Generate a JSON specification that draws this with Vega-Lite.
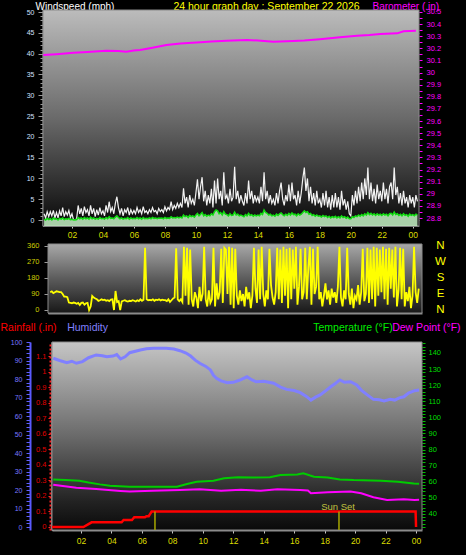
{
"$schema": "https://vega.github.io/schema/vega-lite/v6.json",
"width": 466, "height": 555,
"autosize": {"type": "none"},
"padding": 0,
"background": "#000000",
"config": {
 "view": {"stroke": null},
 "axis": {"labelFont": "Liberation Sans", "titleFont": "Liberation Sans", "titleFontWeight": "normal", "labelOverlap": false, "labelFlush": false, "labelBound": false, "grid": false, "zindex": 1, "gridDash": [1, 2], "gridColor": "#e6e6e6", "gridOpacity": 0.45, "domain": false, "ticks": false, "labels": false}
},
"data": {"values": [{"k": 1}]},
"datasets": {
 "wind": [
{"t":0.2,"g":1.5,"a":0.2},{"t":0.3,"g":0.5,"a":0},{"t":0.4,"g":2,"a":0.4},{"t":0.5,"g":0.8,"a":0.1},{"t":0.6,"g":2,"a":0.3,"d":100},{"t":0.7,"g":1,"a":0,"d":105},{"t":0.8,"g":2.3,"a":0.5,"d":95},{"t":0.9,"g":0.5,"a":0.2,"d":100},
{"t":1,"g":1.8,"a":0.3,"d":105},{"t":1.1,"g":0.5,"a":0,"d":103},{"t":1.2,"g":2.2,"a":0.4,"d":100},{"t":1.3,"g":1,"a":0.2,"d":100},{"t":1.4,"g":3,"a":0.5,"d":90},{"t":1.5,"g":0.8,"a":0.1,"d":75},{"t":1.6,"g":2,"a":0.3,"d":75},{"t":1.7,"g":1.2,"a":0.2,"d":72},{"t":1.8,"g":2.3,"a":0.4,"d":42},{"t":1.9,"g":0.6,"a":0.1,"d":40},
{"t":2,"g":1.5,"a":0.2,"d":38},{"t":2.1,"g":0,"a":0,"d":42},{"t":2.2,"g":0,"a":0,"d":40},{"t":2.3,"g":0.3,"a":0.1,"d":35},{"t":2.4,"g":3.5,"a":0.6,"d":40},{"t":2.5,"g":1.5,"a":0.3,"d":28},{"t":2.6,"g":2.8,"a":0.5,"d":40},{"t":2.7,"g":1,"a":0.2,"d":42},{"t":2.8,"g":3.2,"a":0.6,"d":30},{"t":2.9,"g":1.8,"a":0.3,"d":38},
{"t":3,"g":2.5,"a":0.5,"d":40},{"t":3.1,"g":1,"a":0.2,"d":0},{"t":3.2,"g":3.5,"a":0.7,"d":20},{"t":3.3,"g":1.5,"a":0.3,"d":79},{"t":3.4,"g":2.8,"a":0.5,"d":70},{"t":3.5,"g":0.8,"a":0.2,"d":65},{"t":3.6,"g":2.5,"a":0.4,"d":60},{"t":3.7,"g":1.2,"a":0.2,"d":51},{"t":3.8,"g":3,"a":0.6,"d":55},{"t":3.9,"g":1.5,"a":0.3,"d":60},
{"t":4,"g":2.2,"a":0.4,"d":56},{"t":4.1,"g":1,"a":0.2,"d":58},{"t":4.2,"g":3.5,"a":0.6,"d":52},{"t":4.3,"g":1.8,"a":0.3,"d":55},{"t":4.4,"g":4.4,"a":0.8,"d":50},{"t":4.5,"g":2,"a":0.4,"d":58},{"t":4.6,"g":3,"a":0.5,"d":60},{"t":4.7,"g":1.5,"a":0.3,"d":0},{"t":4.8,"g":4,"a":0.7,"d":107},{"t":4.9,"g":5.6,"a":1,"d":45},
{"t":5,"g":3,"a":0.6,"d":50},{"t":5.1,"g":1.5,"a":0.3,"d":0},{"t":5.2,"g":2.8,"a":0.5,"d":48},{"t":5.3,"g":1,"a":0.2,"d":52},{"t":5.4,"g":2.5,"a":0.4,"d":55},{"t":5.5,"g":1.8,"a":0.3,"d":50},{"t":5.6,"g":3,"a":0.6,"d":48},{"t":5.7,"g":1.2,"a":0.2,"d":52},{"t":5.8,"g":2.5,"a":0.5,"d":50},{"t":5.9,"g":1.5,"a":0.3,"d":55},
{"t":6,"g":2.3,"a":0.4,"d":52},{"t":6.1,"g":1.5,"a":0.3,"d":48},{"t":6.2,"g":3,"a":0.6,"d":55},{"t":6.3,"g":1.8,"a":0.3,"d":50},{"t":6.4,"g":2.5,"a":0.5,"d":60},{"t":6.5,"g":1.5,"a":0.2,"d":52},{"t":6.6,"g":3.2,"a":0.6,"d":58},{"t":6.7,"g":1.8,"a":0.3,"d":350},{"t":6.8,"g":2.2,"a":0.4,"d":60},{"t":6.9,"g":1.5,"a":0.3,"d":55},
{"t":7,"g":2.5,"a":0.5,"d":57},{"t":7.1,"g":1.8,"a":0.3,"d":55},{"t":7.2,"g":3,"a":0.6,"d":60},{"t":7.3,"g":2,"a":0.4,"d":52},{"t":7.4,"g":2.3,"a":0.5,"d":58},{"t":7.5,"g":1.5,"a":0.3,"d":56},{"t":7.6,"g":2.8,"a":0.5,"d":60},{"t":7.7,"g":2,"a":0.4,"d":54},{"t":7.8,"g":2.5,"a":0.5,"d":58},{"t":7.9,"g":1.8,"a":0.3,"d":55},
{"t":8,"g":3.2,"a":0.6,"d":55},{"t":8.1,"g":2.2,"a":0.4,"d":50},{"t":8.2,"g":3,"a":0.5,"d":60},{"t":8.3,"g":2.5,"a":0.4,"d":45},{"t":8.4,"g":4.4,"a":0.8,"d":55},{"t":8.5,"g":2.5,"a":0.5,"d":65},{"t":8.6,"g":3.5,"a":0.6,"d":70},{"t":8.7,"g":2.8,"a":0.5,"d":347},{"t":8.8,"g":4,"a":0.7,"d":60},{"t":8.9,"g":3,"a":0.5,"d":50},
{"t":9,"g":4,"a":0.7,"d":60},{"t":9.1,"g":3,"a":0.5,"d":45},{"t":9.2,"g":7.6,"a":1.2,"d":355},{"t":9.3,"g":4,"a":0.8,"d":80},{"t":9.4,"g":5.5,"a":1,"d":350},{"t":9.5,"g":3,"a":0.6,"d":30},{"t":9.6,"g":6,"a":1.1,"d":340},{"t":9.7,"g":4,"a":0.8,"d":60},{"t":9.8,"g":5,"a":1,"d":20},{"t":9.9,"g":3.5,"a":0.7,"d":100},
{"t":10,"g":6.5,"a":1.2,"d":70},{"t":10.1,"g":9.8,"a":1.6,"d":10},{"t":10.2,"g":5,"a":1,"d":130},{"t":10.3,"g":8,"a":1.4,"d":50},{"t":10.4,"g":10.3,"a":1.8,"d":90},{"t":10.5,"g":4.5,"a":1,"d":355},{"t":10.6,"g":7,"a":1.3,"d":60},{"t":10.7,"g":3.5,"a":0.9,"d":20},{"t":10.8,"g":6,"a":1.2,"d":110},{"t":10.9,"g":4,"a":1,"d":40},
{"t":11,"g":7.5,"a":1.5,"d":60},{"t":11.1,"g":3,"a":1.2,"d":350},{"t":11.2,"g":9.5,"a":2,"d":20},{"t":11.3,"g":4,"a":2.4,"d":150},{"t":11.4,"g":10,"a":2.2,"d":60},{"t":11.5,"g":5,"a":1.5,"d":100},{"t":11.6,"g":7,"a":1.8,"d":345},{"t":11.7,"g":3.5,"a":1.2,"d":40},{"t":11.8,"g":11.5,"a":2,"d":350},{"t":11.9,"g":5,"a":1.4,"d":340},
{"t":12,"g":6,"a":1.3,"d":90},{"t":12.1,"g":4,"a":1,"d":355},{"t":12.2,"g":7.5,"a":1.5,"d":30},{"t":12.3,"g":4.5,"a":1.1,"d":350},{"t":12.4,"g":5.5,"a":1.2,"d":10},{"t":12.5,"g":12.8,"a":1.9,"d":345},{"t":12.6,"g":5,"a":1.2,"d":80},{"t":12.7,"g":7,"a":1.4,"d":30},{"t":12.8,"g":4,"a":1,"d":110},{"t":12.9,"g":6,"a":1.2,"d":50},
{"t":13,"g":4.5,"a":1,"d":90},{"t":13.1,"g":3.5,"a":0.8,"d":20},{"t":13.2,"g":6.5,"a":1.3,"d":130},{"t":13.3,"g":4,"a":1,"d":60},{"t":13.4,"g":9.5,"a":1.6,"d":100},{"t":13.5,"g":5,"a":1.1,"d":10},{"t":13.6,"g":7,"a":1.3,"d":80},{"t":13.7,"g":4,"a":0.9,"d":350},{"t":13.8,"g":6,"a":1.2,"d":120},{"t":13.9,"g":4.5,"a":1,"d":40},
{"t":14,"g":5.5,"a":1.2,"d":340},{"t":14.1,"g":4,"a":1,"d":60},{"t":14.2,"g":8,"a":1.6,"d":355},{"t":14.3,"g":4.5,"a":1.3,"d":90},{"t":14.4,"g":11.5,"a":2.4,"d":20},{"t":14.5,"g":5,"a":1.8,"d":110},{"t":14.6,"g":7,"a":1.6,"d":60},{"t":14.7,"g":4,"a":1.2,"d":345},{"t":14.8,"g":6,"a":1.4,"d":140},{"t":14.9,"g":4,"a":1,"d":70},
{"t":15,"g":5,"a":1.2,"d":30},{"t":15.1,"g":3.5,"a":0.9,"d":100},{"t":15.2,"g":6.5,"a":1.4,"d":350},{"t":15.3,"g":4,"a":1.1,"d":60},{"t":15.4,"g":7,"a":1.5,"d":340},{"t":15.5,"g":9,"a":1.7,"d":40},{"t":15.6,"g":5,"a":1.3,"d":355},{"t":15.7,"g":3.5,"a":1,"d":80},{"t":15.8,"g":6,"a":1.4,"d":345},{"t":15.9,"g":4.5,"a":1.1,"d":10},
{"t":16,"g":8.5,"a":1.6,"d":350},{"t":16.1,"g":4.5,"a":1.2,"d":60},{"t":16.2,"g":9,"a":1.7,"d":340},{"t":16.3,"g":5,"a":1.3,"d":120},{"t":16.4,"g":6,"a":1.4,"d":355},{"t":16.5,"g":3.5,"a":1,"d":30},{"t":16.6,"g":7,"a":1.5,"d":130},{"t":16.7,"g":4,"a":1.2,"d":345},{"t":16.8,"g":6.5,"a":1.4,"d":60},{"t":16.9,"g":10,"a":1.8,"d":100},
{"t":17,"g":12.6,"a":2.2,"d":350},{"t":17.1,"g":7,"a":1.8,"d":60},{"t":17.2,"g":10,"a":2,"d":240},{"t":17.3,"g":4.5,"a":1.4,"d":355},{"t":17.4,"g":8,"a":1.6,"d":30},{"t":17.5,"g":4,"a":1.1,"d":345},{"t":17.6,"g":6.5,"a":1.3,"d":90},{"t":17.7,"g":3.5,"a":0.9,"d":130},{"t":17.8,"g":7,"a":1.2,"d":355},{"t":17.9,"g":4,"a":0.9,"d":60},
{"t":18,"g":5,"a":1,"d":100},{"t":18.1,"g":3,"a":0.7,"d":20},{"t":18.2,"g":6.5,"a":1.1,"d":80},{"t":18.3,"g":3.5,"a":0.8,"d":150},{"t":18.4,"g":7,"a":1,"d":60},{"t":18.5,"g":3,"a":0.6,"d":110},{"t":18.6,"g":5.5,"a":0.9,"d":30},{"t":18.7,"g":2.5,"a":0.5,"d":120},{"t":18.8,"g":6,"a":0.8,"d":70},{"t":18.9,"g":3,"a":0.6,"d":100},
{"t":19,"g":6.5,"a":0.9,"d":40},{"t":19.1,"g":3,"a":0.5,"d":130},{"t":19.2,"g":5.5,"a":0.8,"d":355},{"t":19.3,"g":2.5,"a":0.5,"d":70},{"t":19.4,"g":7,"a":1,"d":20},{"t":19.5,"g":3.5,"a":0.6,"d":110},{"t":19.6,"g":5,"a":0.8,"d":60},{"t":19.7,"g":2.5,"a":0.4,"d":350},{"t":19.8,"g":4.5,"a":0.7,"d":90},{"t":19.9,"g":1.5,"a":0.3,"d":30},
{"t":20,"g":1,"a":0.3,"d":120},{"t":20.1,"g":6,"a":0.8,"d":10},{"t":20.2,"g":3.5,"a":0.6,"d":80},{"t":20.3,"g":7,"a":1,"d":60},{"t":20.4,"g":4,"a":0.8,"d":140},{"t":20.5,"g":8,"a":1.2,"d":30},{"t":20.6,"g":4.5,"a":0.9,"d":100},{"t":20.7,"g":9,"a":1.3,"d":345},{"t":20.8,"g":5,"a":1,"d":50},{"t":20.9,"g":10,"a":1.5,"d":90},
{"t":21,"g":6,"a":1.2,"d":350},{"t":21.1,"g":12.6,"a":1.8,"d":40},{"t":21.2,"g":5,"a":1.3,"d":340},{"t":21.3,"g":9,"a":1.6,"d":60},{"t":21.4,"g":4.5,"a":1.2,"d":355},{"t":21.5,"g":7.5,"a":1.5,"d":20},{"t":21.6,"g":4,"a":1.1,"d":350},{"t":21.7,"g":8.5,"a":1.5,"d":80},{"t":21.8,"g":5,"a":1.2,"d":340},{"t":21.9,"g":7,"a":1.4,"d":100},
{"t":22,"g":4.5,"a":1.1,"d":355},{"t":22.1,"g":9,"a":1.5,"d":60},{"t":22.2,"g":5,"a":1.2,"d":345},{"t":22.3,"g":7.5,"a":1.4,"d":30},{"t":22.4,"g":4,"a":1,"d":350},{"t":22.5,"g":8,"a":1.5,"d":120},{"t":22.6,"g":9,"a":1.6,"d":340},{"t":22.7,"g":5,"a":1.2,"d":70},{"t":22.8,"g":12.6,"a":1.9,"d":355},{"t":22.9,"g":6,"a":1.3,"d":20},
{"t":23,"g":8,"a":1.5,"d":110},{"t":23.1,"g":4,"a":1.1,"d":350},{"t":23.2,"g":6.5,"a":1.4,"d":60},{"t":23.3,"g":3.5,"a":1,"d":345},{"t":23.4,"g":7,"a":1.5,"d":20},{"t":23.5,"g":4,"a":1.1,"d":100},{"t":23.6,"g":5.5,"a":1.3,"d":50},{"t":23.7,"g":3,"a":0.9,"d":130},{"t":23.8,"g":6,"a":1.4,"d":10},{"t":23.9,"g":4,"a":1.1,"d":80},
{"t":24,"g":5.5,"a":1.3,"d":355},{"t":24.1,"g":3,"a":1,"d":100},{"t":24.2,"g":6,"a":1.4,"d":40},{"t":24.3,"g":4.5,"a":1.2,"d":120}
 ],
 "baro": [{"t":0.15,"b":30.145},{"t":1,"b":30.152},{"t":2.1,"b":30.164},{"t":3,"b":30.17},{"t":4.2,"b":30.181},{"t":5,"b":30.178},{"t":5.5,"b":30.172},{"t":6,"b":30.183},{"t":6.4,"b":30.186},{"t":7.2,"b":30.205},{"t":8.1,"b":30.228},{"t":9,"b":30.24},{"t":10.3,"b":30.25},{"t":11,"b":30.256},{"t":12,"b":30.263},{"t":13.3,"b":30.269},{"t":14,"b":30.265},{"t":15,"b":30.255},{"t":16.3,"b":30.261},{"t":17,"b":30.265},{"t":18,"b":30.275},{"t":19.3,"b":30.291},{"t":20.4,"b":30.304},{"t":21.2,"b":30.31},{"t":21.9,"b":30.318},{"t":23,"b":30.324},{"t":23.4,"b":30.341},{"t":24.2,"b":30.346}],
 "hum": [{"t":0.18,"h":91.2},{"t":0.6,"h":90},{"t":1.07,"h":88.8},{"t":1.4,"h":89.6},{"t":1.7,"h":88.5},{"t":2.1,"h":89.4},{"t":2.5,"h":91.5},{"t":3.0,"h":93},{"t":3.4,"h":92.6},{"t":3.7,"h":92},{"t":4.1,"h":92.4},{"t":4.35,"h":93.2},{"t":4.6,"h":90.8},{"t":4.9,"h":92},{"t":5.2,"h":94.2},{"t":5.9,"h":95.7},{"t":6.3,"h":96.3},{"t":6.76,"h":96.6},{"t":7.6,"h":96.6},{"t":8.1,"h":96.2},{"t":8.5,"h":95.3},{"t":8.9,"h":94},{"t":9.2,"h":92.4},{"t":9.5,"h":90.2},{"t":9.8,"h":88.5},{"t":10.2,"h":86.8},{"t":10.5,"h":84.9},{"t":10.7,"h":82},{"t":10.9,"h":80.4},{"t":11.2,"h":79},{"t":11.6,"h":78},{"t":12.0,"h":78.2},{"t":12.4,"h":79.3},{"t":12.9,"h":81.2},{"t":13.2,"h":79.6},{"t":13.5,"h":78.5},{"t":14.0,"h":78.8},{"t":14.65,"h":77.7},{"t":15.1,"h":75.6},{"t":15.5,"h":74.4},{"t":16.0,"h":73.8},{"t":16.4,"h":72.6},{"t":16.8,"h":70.6},{"t":17.1,"h":68.6},{"t":17.4,"h":70.2},{"t":17.7,"h":71.4},{"t":18.0,"h":73.2},{"t":18.4,"h":75.8},{"t":18.7,"h":77.6},{"t":19.0,"h":79.5},{"t":19.3,"h":78.2},{"t":19.7,"h":78.5},{"t":20.1,"h":76.8},{"t":20.4,"h":74},{"t":20.8,"h":71.4},{"t":21.2,"h":69},{"t":21.6,"h":68.8},{"t":21.9,"h":68.1},{"t":22.3,"h":69},{"t":22.6,"h":68.6},{"t":22.9,"h":69.8},{"t":23.2,"h":70.4},{"t":23.5,"h":72.4},{"t":23.9,"h":73.7},{"t":24.2,"h":74}],
 "temp": [{"t":0.18,"v":61.5},{"t":1.0,"v":61.1},{"t":1.9,"v":60.7},{"t":2.5,"v":59.5},{"t":3.25,"v":58.4},{"t":3.9,"v":57.6},{"t":5.2,"v":57},{"t":6.5,"v":57},{"t":8.3,"v":57},{"t":8.96,"v":58.6},{"t":9.6,"v":60},{"t":10.7,"v":60.7},{"t":11.4,"v":62.2},{"t":12.3,"v":62.8},{"t":13.3,"v":62.6},{"t":14.4,"v":62.8},{"t":15.1,"v":64.2},{"t":16.2,"v":64.6},{"t":16.6,"v":65.3},{"t":17.3,"v":63.2},{"t":18.2,"v":62.6},{"t":19.0,"v":61.5},{"t":19.9,"v":61.1},{"t":21.7,"v":60.7},{"t":22.8,"v":60},{"t":23.85,"v":59},{"t":24.2,"v":58.8}],
 "dew": [{"t":0.18,"v":58.2},{"t":1.7,"v":56.3},{"t":3.0,"v":55.5},{"t":4.6,"v":54.3},{"t":5.2,"v":53.9},{"t":6.7,"v":54.5},{"t":8.5,"v":54.9},{"t":9.8,"v":55.3},{"t":11.2,"v":54.5},{"t":12.5,"v":55},{"t":13.8,"v":54.5},{"t":14.9,"v":55.3},{"t":16.4,"v":54.9},{"t":16.9,"v":54.6},{"t":17.1,"v":52.9},{"t":18.2,"v":53.5},{"t":19.7,"v":53.9},{"t":20.4,"v":52.9},{"t":21.2,"v":50.4},{"t":22.1,"v":48.7},{"t":23.2,"v":49.1},{"t":23.9,"v":48.7},{"t":24.2,"v":48.9}],
 "rain": [{"t":0.1,"r":0},{"t":2.16,"r":0},{"t":2.7,"r":0.03},{"t":4.67,"r":0.03},{"t":4.8,"r":0.045},{"t":5.35,"r":0.045},{"t":5.5,"r":0.063},{"t":6.2,"r":0.063},{"t":6.3,"r":0.07},{"t":6.45,"r":0.07},{"t":6.64,"r":0.1},{"t":23.97,"r":0.1},{"t":24.0,"r":0}]
},
"resolve": {"scale": {"x": "independent", "y": "independent"}, "axis": {"x": "independent", "y": "independent"}},
"layer": [
 {
  "mark": {"type": "rect", "fill": {"gradient": "linear", "x1": 0, "y1": 0, "x2": 0, "y2": 1, "stops": [{"offset": 0, "color": "#bcbcbc"}, {"offset": 0.5, "color": "#6a6a6a"}, {"offset": 0.85, "color": "#262626"}, {"offset": 1, "color": "#080808"}]}, "stroke": "#8a8a8a", "strokeWidth": 1},
  "encoding": {
   "x": {"datum": 0.13, "type": "quantitative", "scale": {"domain": [0.13, 24.4], "range": [43, 419], "nice": false, "zero": false},
         "axis": {"orient": "bottom", "offset": -329, "values": [2,4,6,8,10,12,14,16,18,20,22,24], "labels": true, "labelExpr": "datum.value == 24 ? '00' : (datum.value < 10 ? '0' + datum.value : '' + datum.value)", "labelColor": "#dddd00", "labelFontSize": 8.5, "labelPadding": 2, "ticks": true, "tickSize": 2, "tickColor": "#c8c8c8", "domain": true, "domainColor": "#707070", "title": null}},
   "x2": {"datum": 24.4},
   "y": {"datum": -1.44, "type": "quantitative", "scale": {"domain": [-1.44, 50.5], "range": [226, 10], "nice": false, "zero": false},
         "axis": {"orient": "left", "offset": -43, "values": [0,5,10,15,20,25,30,35,40,45,50], "labels": true, "labelExpr": "format(datum.value, 'd')", "labelColor": "#d0e0ff", "labelFontSize": 7, "labelPadding": 4, "ticks": true, "tickSize": 5, "tickColor": "#9a9a9a", "domain": true, "domainColor": "#d8d8d8", "domainWidth": 1.5, "grid": true, "title": "Windspeed (mph)", "titleAngle": 0, "titleX": -8, "titleY": 9, "titleAlign": "left", "titleBaseline": "alphabetic", "titleColor": "#ffffff", "titleFontSize": 10}},
   "y2": {"datum": 50.5}
  }
 },
 {
  "data": {"name": "wind"},
  "mark": {"type": "area", "color": "#c6f2c6", "opacity": 0.85},
  "encoding": {
   "x": {"field": "t", "type": "quantitative", "scale": {"domain": [0.13, 24.4], "range": [43, 419], "nice": false, "zero": false},
         "axis": {"orient": "top", "offset": 0, "values": [2,4,6,8,10,12,14,16,18,20,22,24], "grid": true, "title": null}},
   "y": {"field": "a", "type": "quantitative", "scale": {"domain": [-1.44, 50.5], "range": [226, 10], "nice": false, "zero": false},
         "axis": {"orient": "left", "offset": -43, "values": [0,1,2,3,4,5,6,7,8,9,10,11,12,13,14,15,16,17,18,19,20,21,22,23,24,25,26,27,28,29,30,31,32,33,34,35,36,37,38,39,40,41,42,43,44,45,46,47,48,49,50], "ticks": true, "tickSize": 3, "tickColor": "#9a9a9a", "title": null}},
   "y2": {"datum": -1.44}
  }
 },
 {
  "data": {"name": "wind"},
  "mark": {"type": "line", "color": "#f2f2f2", "strokeWidth": 1.2},
  "encoding": {
   "x": {"field": "t", "type": "quantitative", "scale": {"domain": [0.13, 24.4], "range": [43, 419], "nice": false, "zero": false},
         "axis": {"orient": "top", "offset": 0, "title": "24 hour graph day : September 22 2026", "titleX": 266, "titleY": 9, "titleAlign": "center", "titleBaseline": "alphabetic", "titleAngle": 0, "titleColor": "#ffff00", "titleFontSize": 10.5}},
   "y": {"field": "g", "type": "quantitative", "scale": {"domain": [-1.44, 50.5], "range": [226, 10], "nice": false, "zero": false}, "axis": null}
  }
 },
 {
  "data": {"name": "wind"},
  "mark": {"type": "line", "color": "#10dd10", "strokeWidth": 1.5},
  "encoding": {
   "x": {"field": "t", "type": "quantitative", "scale": {"domain": [0.13, 24.4], "range": [43, 419], "nice": false, "zero": false}, "axis": null},
   "y": {"field": "a", "type": "quantitative", "scale": {"domain": [-1.44, 50.5], "range": [226, 10], "nice": false, "zero": false}, "axis": null}
  }
 },
 {
  "data": {"name": "baro"},
  "mark": {"type": "line", "color": "#ff00ff", "strokeWidth": 2},
  "encoding": {
   "x": {"field": "t", "type": "quantitative", "scale": {"domain": [0.13, 24.4], "range": [43, 419], "nice": false, "zero": false}, "axis": null},
   "y": {"field": "b", "type": "quantitative", "scale": {"domain": [28.734, 30.5165], "range": [226, 10], "nice": false, "zero": false},
         "axis": {"orient": "right", "offset": -47, "values": [28.8,28.85,28.9,28.95,29,29.05,29.1,29.15,29.2,29.25,29.3,29.35,29.4,29.45,29.5,29.55,29.6,29.65,29.7,29.75,29.8,29.85,29.9,29.95,30,30.05,30.1,30.15,30.2,30.25,30.3,30.35,30.4,30.45,30.5], "labels": true, "labelExpr": "round(datum.value*100) % 10 == 0 ? format(datum.value, '.1~f') : ''", "labelColor": "#ff00ff", "labelFontSize": 7.5, "labelPadding": 4, "ticks": true, "tickSize": 3, "tickColor": "#ff00ff", "title": "Barometer (.in)", "titleAngle": 0, "titleX": -47, "titleY": 9, "titleAlign": "left", "titleBaseline": "alphabetic", "titleColor": "#ff00ff", "titleFontSize": 10}}
  }
 },
 {
  "mark": {"type": "rect", "fill": {"gradient": "linear", "x1": 0, "y1": 0, "x2": 0, "y2": 1, "stops": [{"offset": 0, "color": "#a8a8a8"}, {"offset": 0.5, "color": "#5c5c5c"}, {"offset": 1, "color": "#181818"}]}, "stroke": "#8a8a8a", "strokeWidth": 1},
  "encoding": {
   "x": {"datum": 0.457, "type": "quantitative", "scale": {"domain": [0.457, 24.51], "range": [48, 422], "nice": false, "zero": false},
         "axis": {"orient": "bottom", "offset": -242, "domain": true, "domainColor": "#8c8c8c", "domainWidth": 2, "title": null}},
   "x2": {"datum": 24.51},
   "y": {"datum": -16.9, "type": "quantitative", "scale": {"domain": [-16.9, 371.25], "range": [313, 244], "nice": false, "zero": false},
         "axis": {"orient": "left", "offset": -48, "values": [0,90,180,270,360], "labels": true, "labelExpr": "format(datum.value, 'd')", "labelColor": "#cccc00", "labelFontSize": 7.5, "labelPadding": 5, "ticks": true, "tickSize": 4, "tickColor": "#9a9a9a", "domain": true, "domainColor": "#c8c8c8", "grid": true, "title": null}},
   "y2": {"datum": 371.25}
  }
 },
 {
  "data": {"name": "wind"},
  "mark": {"type": "line", "color": "#ffff00", "strokeWidth": 1.8},
  "encoding": {
   "x": {"field": "t", "type": "quantitative", "scale": {"domain": [0.457, 24.51], "range": [48, 422], "nice": false, "zero": false}, "axis": null},
   "y": {"field": "d", "type": "quantitative", "scale": {"domain": [-16.9, 371.25], "range": [313, 244], "nice": false, "zero": false},
         "axis": {"orient": "right", "offset": -44, "values": [0,90,180,270,360], "labels": true, "labelExpr": "datum.value == 90 ? 'E' : datum.value == 180 ? 'S' : datum.value == 270 ? 'W' : 'N'", "labelColor": "#ffff00", "labelFontSize": 11.5, "labelAlign": "center", "labelBaseline": "middle", "labelPadding": 18, "tickSize": 0, "title": null}}
  }
 },
 {
  "mark": {"type": "rect", "fill": {"gradient": "linear", "x1": 0, "y1": 0, "x2": 0, "y2": 1, "stops": [{"offset": 0, "color": "#c6c6c6"}, {"offset": 0.5, "color": "#6a6a6a"}, {"offset": 0.85, "color": "#222222"}, {"offset": 1, "color": "#0a0a0a"}]}, "stroke": "#8a8a8a", "strokeWidth": 1},
  "encoding": {
   "x": {"datum": 0.1, "type": "quantitative", "scale": {"domain": [0.1, 24.39], "range": [52, 422], "nice": false, "zero": false},
         "axis": {"orient": "bottom", "offset": -25, "values": [2,4,6,8,10,12,14,16,18,20,22,24], "labels": true, "labelExpr": "datum.value == 24 ? '00' : (datum.value < 10 ? '0' + datum.value : '' + datum.value)", "labelColor": "#dddd00", "labelFontSize": 8.5, "labelPadding": 3, "ticks": true, "tickSize": 3, "tickColor": "#c8c8c8", "domain": true, "domainColor": "#8c8c8c", "domainWidth": 2, "title": null}},
   "x2": {"datum": 24.39},
   "y": {"datum": -1.62, "type": "quantitative", "scale": {"domain": [-1.62, 100], "range": [530, 342], "nice": false, "zero": false},
         "axis": {"orient": "left", "offset": -52, "values": [10,20,30,40,50,60,70,80,90], "domain": true, "domainColor": "#f0f0f0", "domainWidth": 2, "grid": true, "title": null}},
   "y2": {"datum": 100}
  }
 },
 {
  "data": {"name": "hum"},
  "mark": {"type": "line", "color": "#8080ff", "strokeWidth": 3},
  "encoding": {
   "x": {"field": "t", "type": "quantitative", "scale": {"domain": [0.1, 24.39], "range": [52, 422], "nice": false, "zero": false},
         "axis": {"orient": "top", "offset": 0, "values": [2,4,6,8,10,12,14,16,18,20,22,24], "grid": true, "title": null}},
   "y": {"field": "h", "type": "quantitative", "scale": {"domain": [-1.62, 100], "range": [530, 342], "nice": false, "zero": false},
         "axis": {"orient": "left", "offset": -30, "values": [0,2,4,6,8,10,12,14,16,18,20,22,24,26,28,30,32,34,36,38,40,42,44,46,48,50,52,54,56,58,60,62,64,66,68,70,72,74,76,78,80,82,84,86,88,90,92,94,96,98,100], "labels": true, "labelExpr": "datum.value % 10 == 0 ? format(datum.value, 'd') : ''", "labelColor": "#7878ff", "labelFontSize": 7, "labelPadding": 4, "ticks": true, "tickSize": 4, "tickColor": "#6060ff", "domain": true, "domainColor": "#5a5aff", "domainWidth": 2, "title": "Humidity", "titleAngle": 0, "titleX": 36.7, "titleY": 330, "titleAlign": "left", "titleBaseline": "alphabetic", "titleColor": "#8080ff", "titleFontSize": 10.5}}
  }
 },
 {
  "data": {"name": "temp"},
  "mark": {"type": "line", "color": "#00cc00", "strokeWidth": 2},
  "encoding": {
   "x": {"field": "t", "type": "quantitative", "scale": {"domain": [0.1, 24.39], "range": [52, 422], "nice": false, "zero": false}, "axis": null},
   "y": {"field": "v", "type": "quantitative", "scale": {"domain": [30.06, 146.83], "range": [530, 342], "nice": false, "zero": false},
         "axis": {"orient": "right", "offset": -44, "values": [32,34,36,38,40,42,44,46,48,50,52,54,56,58,60,62,64,66,68,70,72,74,76,78,80,82,84,86,88,90,92,94,96,98,100,102,104,106,108,110,112,114,116,118,120,122,124,126,128,130,132,134,136,138,140,142,144,146], "labels": true, "labelExpr": "datum.value % 10 == 0 && datum.value >= 40 && datum.value <= 140 ? format(datum.value, 'd') : ''", "labelColor": "#00dd00", "labelFontSize": 7.5, "labelPadding": 3, "ticks": true, "tickSize": 3, "tickColor": "#00c000", "title": "Temperature (°F)", "titleAngle": 0, "titleX": -109.3, "titleY": 330, "titleAlign": "left", "titleBaseline": "alphabetic", "titleColor": "#00ee00", "titleFontSize": 10.5}}
  }
 },
 {
  "data": {"name": "dew"},
  "mark": {"type": "line", "color": "#ff00ff", "strokeWidth": 2},
  "encoding": {
   "x": {"field": "t", "type": "quantitative", "scale": {"domain": [0.1, 24.39], "range": [52, 422], "nice": false, "zero": false}, "axis": null},
   "y": {"field": "v", "type": "quantitative", "scale": {"domain": [30.06, 146.83], "range": [530, 342], "nice": false, "zero": false},
         "axis": {"orient": "right", "offset": -44, "values": [], "title": "Dew Point (°F)", "titleAngle": 0, "titleX": -30.3, "titleY": 330, "titleAlign": "left", "titleBaseline": "alphabetic", "titleColor": "#ff00ff", "titleFontSize": 10.5}}
  }
 },
 {
  "data": {"name": "rain"},
  "mark": {"type": "line", "color": "#ff0000", "strokeWidth": 2.5},
  "encoding": {
   "x": {"field": "t", "type": "quantitative", "scale": {"domain": [0.1, 24.39], "range": [52, 422], "nice": false, "zero": false}, "axis": null},
   "y": {"field": "r", "type": "quantitative", "scale": {"domain": [-0.0194, 1.1935], "range": [530, 342], "nice": false, "zero": false},
         "axis": {"orient": "left", "offset": -50, "values": [0,0.1,0.2,0.3,0.4,0.5,0.6,0.7,0.8,0.9,1,1.1,1.2], "labels": true, "format": ".1~f", "labelColor": "#e00000", "labelFontSize": 7.5, "labelPadding": 2, "ticks": true, "tickSize": 2, "tickColor": "#ff2020", "domain": true, "domainColor": "#ff2020", "domainDash": [2, 2], "domainWidth": 2, "title": "Rainfall (.in)", "titleAngle": 0, "titleX": -50, "titleY": 330, "titleAlign": "left", "titleBaseline": "alphabetic", "titleColor": "#ff0000", "titleFontSize": 10.5}}
  }
 },
 {
  "data": {"values": [{"t": 6.86, "event": "Sun Rise"}, {"t": 18.94, "event": "Sun Set"}]},
  "mark": {"type": "rule", "color": "#a8a800", "strokeWidth": 1.5},
  "encoding": {
   "x": {"field": "t", "type": "quantitative", "scale": {"domain": [0.1, 24.39], "range": [52, 422], "nice": false, "zero": false}, "axis": null},
   "y": {"datum": 0.1, "type": "quantitative", "scale": {"domain": [-0.0194, 1.1935], "range": [530, 342], "nice": false, "zero": false}, "axis": null},
   "y2": {"datum": -0.0194}
  }
 },
 {
  "data": {"values": [{"t": 18.88, "label": "Sun Set"}]},
  "mark": {"type": "text", "color": "#c0c040", "fontSize": 9.5, "font": "Liberation Sans", "align": "center", "baseline": "alphabetic"},
  "encoding": {
   "x": {"field": "t", "type": "quantitative", "scale": {"domain": [0.1, 24.39], "range": [52, 422], "nice": false, "zero": false}, "axis": null},
   "y": {"datum": 0.11, "type": "quantitative", "scale": {"domain": [-0.0194, 1.1935], "range": [530, 342], "nice": false, "zero": false}, "axis": null},
   "text": {"field": "label"}
  }
 }
]
}
